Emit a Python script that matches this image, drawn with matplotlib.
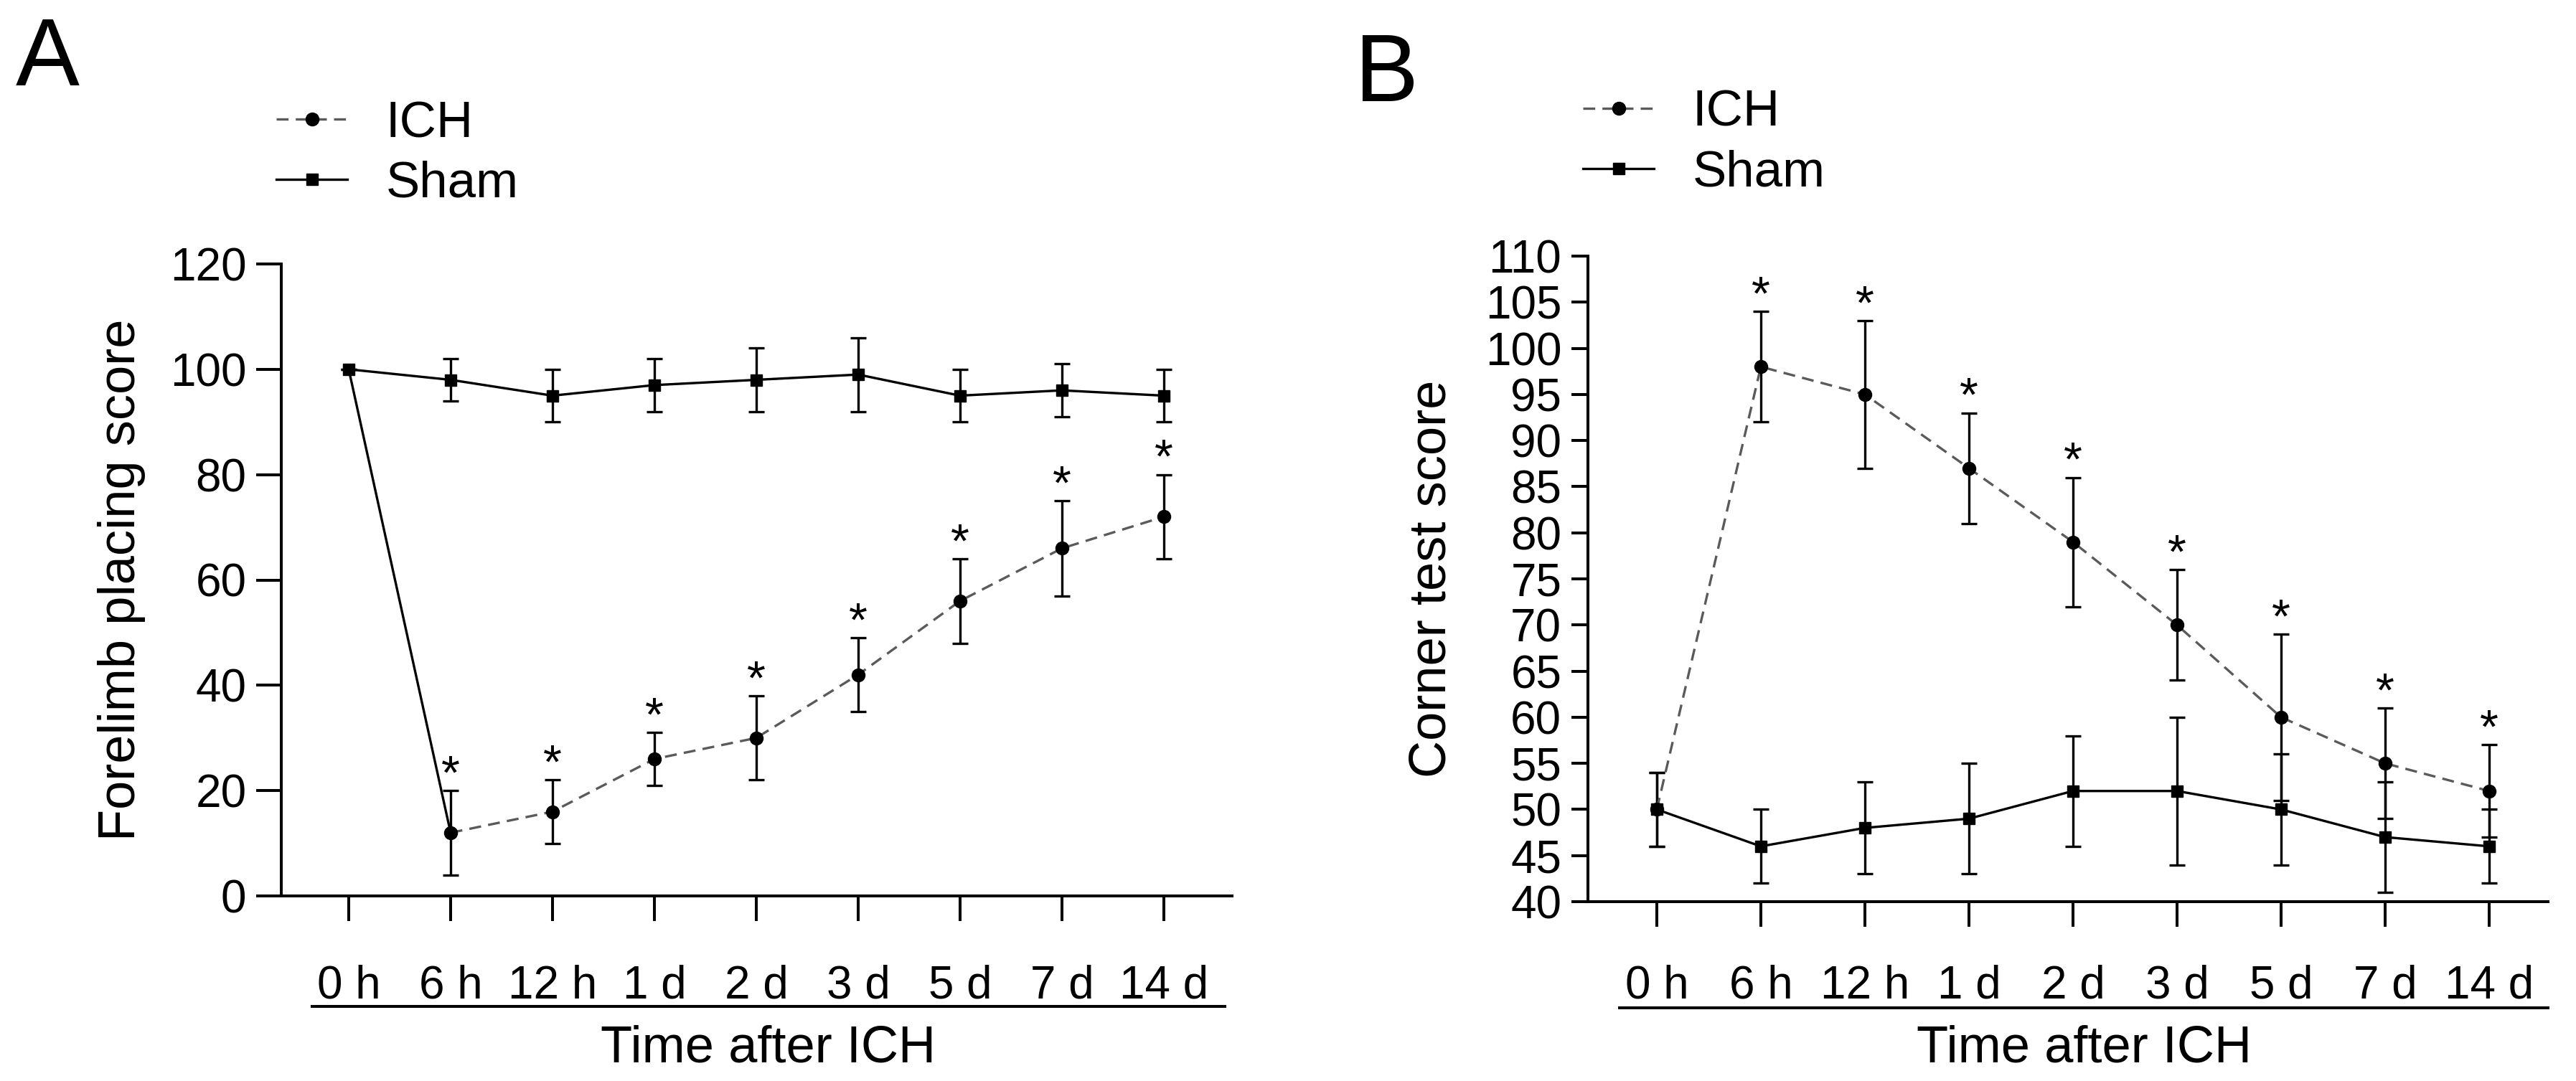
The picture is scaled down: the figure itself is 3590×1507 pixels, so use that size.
import matplotlib
matplotlib.use("Agg")
import matplotlib.pyplot as plt
from matplotlib.lines import Line2D
import numpy as np

plt.rcParams['font.family'] = ['Liberation Sans', 'DejaVu Sans']

# ---------------- data ----------------
time_labels = ["0 h", "6 h", "12 h", "1 d", "2 d", "3 d", "5 d", "7 d", "14 d"]

# Panel A: forelimb placing score
a_ich_mean = [100, 12, 16, 26, 30, 42, 56, 66, 72]
a_ich_err = [0, 8, 6, 5, 8, 7, 8, 9, 8]
a_sham_mean = [100, 98, 95, 97, 98, 99, 95, 96, 95]
a_sham_err = [0, 4, 5, 5, 6, 7, 5, 5, 5]

# Panel B: corner test score
b_ich_mean = [50, 98, 95, 87, 79, 70, 60, 55, 52]
b_ich_err = [4, 6, 8, 6, 7, 6, 9, 6, 5]
b_sham_mean = [50, 46, 48, 49, 52, 52, 50, 47, 46]
b_sham_err = [4, 4, 5, 6, 6, 8, 6, 6, 4]

# significance markers (index of time points with *)
sig_idx = [1, 2, 3, 4, 5, 6, 7, 8]

# ---------------- figure ----------------
W, H = 3591, 1507
fig = plt.figure(figsize=(W / 100, H / 100), dpi=100)

TICK_FS = 46
LAB_FS = 52
LEG_FS = 51
PANEL_FS = 96
LW_AX = 2.9
LW_DATA = 2.4
MS = 12
GREY = "#5a5a5a"


def box(l, t, r, b):
    return [l / W, 1 - b / H, (r - l) / W, (b - t) / H]


def draw_panel(ax, ich_m, ich_e, sham_m, sham_e, ylim, yticks, xlim,
               ylab, first_seg_solid, ytick_len, xpad, ylabx):
    x = np.arange(len(time_labels))
    # Sham
    sh = ax.errorbar(x, sham_m, yerr=sham_e, color="black", lw=LW_DATA,
                     marker="s", ms=MS, mfc="black", mec="black",
                     ecolor="black", elinewidth=LW_DATA, capsize=8,
                     capthick=LW_DATA, zorder=3, label="Sham", clip_on=False)
    # ICH
    if first_seg_solid:
        ax.plot(x[:2], ich_m[:2], color="black", lw=LW_DATA, zorder=2)
        xs, ms_, es = x[1:], ich_m[1:], ich_e[1:]
    else:
        xs, ms_, es = x, ich_m, ich_e
    ic = ax.errorbar(xs, ms_, yerr=es, color=GREY, lw=LW_DATA,
                     linestyle=(0, (5, 3)), marker="o", ms=MS + 1,
                     mfc="black", mec="black", ecolor="black",
                     elinewidth=LW_DATA, capsize=8, capthick=LW_DATA,
                     zorder=4, label="ICH", clip_on=False)
    for i in sig_idx:
        ax.annotate("*", (x[i], ich_m[i] + ich_e[i]), xytext=(0, 2),
                    textcoords="offset points", ha="center", va="baseline",
                    fontsize=TICK_FS + 2, color="black")
    ax.set_xlim(*xlim)
    ax.set_ylim(*ylim)
    ax.set_yticks(yticks)
    ax.set_xticks(x)
    ax.set_xticklabels(time_labels)
    for s in ["top", "right"]:
        ax.spines[s].set_visible(False)
    for s in ["left", "bottom"]:
        ax.spines[s].set_linewidth(LW_AX)
    ax.tick_params(axis="y", length=ytick_len, width=LW_AX, labelsize=TICK_FS,
                   pad=10, direction="out")
    ax.tick_params(axis="x", length=25, width=LW_AX, labelsize=TICK_FS,
                   pad=xpad, direction="out")
    ax.set_ylabel(ylab, fontsize=LAB_FS)
    ax.yaxis.set_label_coords(ylabx, 0.5)
    return ic, sh


# Panel A
axA = fig.add_axes(box(392, 368, 1717, 1249))
icA, shA = draw_panel(axA, a_ich_mean, a_ich_err, a_sham_mean, a_sham_err,
                      (0, 120), np.arange(0, 121, 20), (-0.662, 8.67),
                      "Forelimb placing score", True, 25, 44, -0.143)

# Panel B
axB = fig.add_axes(box(2213, 357, 3551, 1257))
icB, shB = draw_panel(axB, b_ich_mean, b_ich_err, b_sham_mean, b_sham_err,
                      (40, 110), np.arange(40, 111, 5), (-0.662, 8.566),
                      "Corner test score", False, 16.5, 38, -0.137)

# underline under time labels + x titles
for (x0, x1, yy, xc) in [(435, 1707, 1403, 1071), (2257, 3551, 1405, 2905)]:
    fig.add_artist(Line2D([x0 / W, x1 / W], [1 - yy / H, 1 - yy / H],
                          color="black", lw=LW_AX))
    fig.text(xc / W, 1 - 1462 / H, "Time after ICH", ha="center",
             va="center", fontsize=LAB_FS)

# legends
for ax, ic, sh, lx, ly in [(axA, icA, shA, 385, 140), (axB, icB, shB, 2206, 125)]:
    ax.legend(handles=[ic[0], sh[0]], labels=["ICH", "Sham"],
              loc="upper left", bbox_to_anchor=(lx / W, 1 - ly / H),
              bbox_transform=fig.transFigure, frameon=False,
              fontsize=LEG_FS, handlelength=1.4, handletextpad=0.75,
              labelspacing=0.25, borderpad=0, borderaxespad=0, numpoints=1)

# panel letters
fig.text(22 / W, 1 - 22 / H, "A", fontsize=PANEL_FS, ha="left", va="top")
fig.text(1888 / W, 1 - 44 / H, "B", fontsize=PANEL_FS, ha="left", va="top")

fig.savefig("out.png", dpi=100, facecolor="white")
